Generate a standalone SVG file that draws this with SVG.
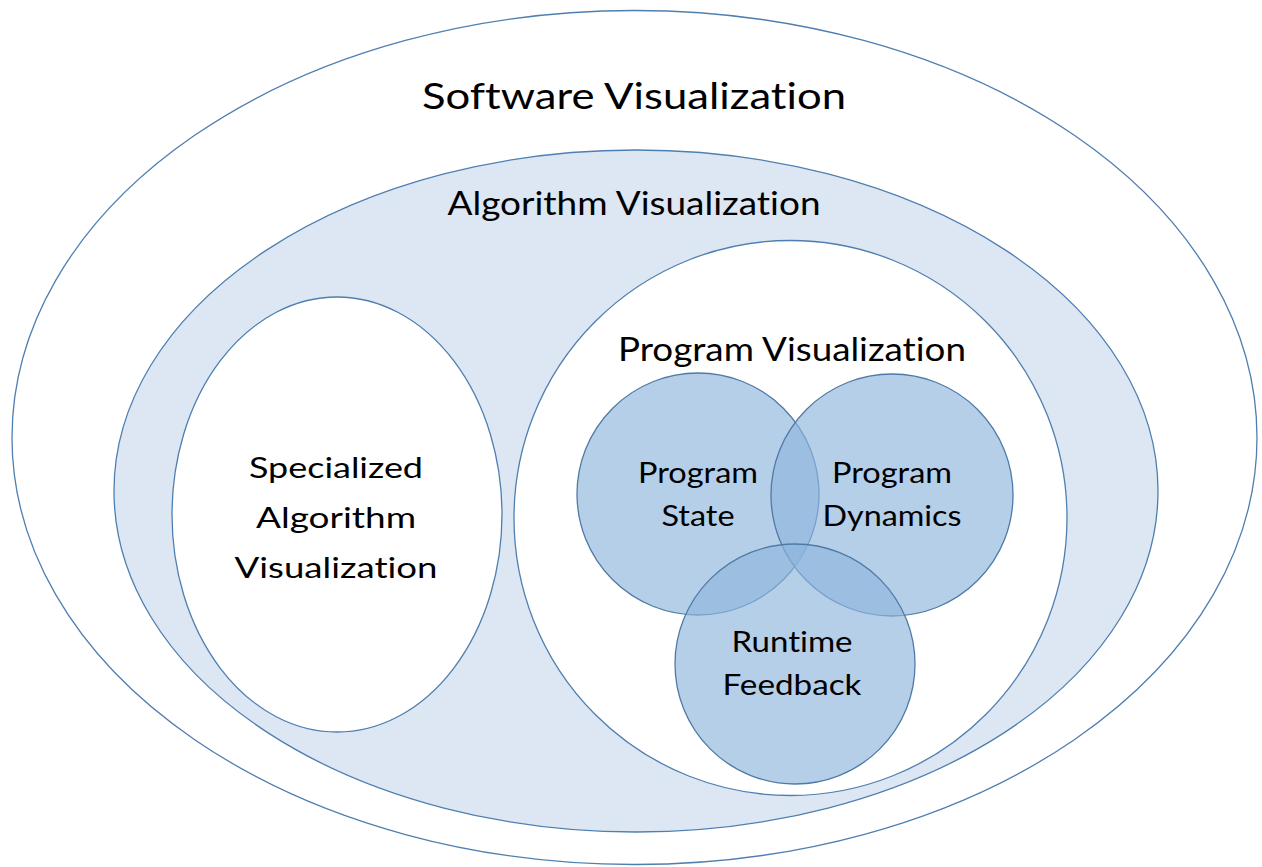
<svg xmlns="http://www.w3.org/2000/svg" width="1262" height="867" viewBox="0 0 1262 867">
<style>
.ell{stroke:#4f7fb0;stroke-width:1.3}
.circ{fill:#8fb6dd;fill-opacity:0.65;stroke:#4f7aa5;stroke-width:1.3}
text{font-family:Lato,"Open Sans","Liberation Sans",sans-serif;fill:#000;text-anchor:middle;font-variant-ligatures:none;font-feature-settings:"liga" 0}
</style>
<rect width="1262" height="867" fill="#fff"/>
<g id="software">
<ellipse class="ell" cx="634.5" cy="437.5" rx="622.5" ry="427" fill="#fff"/>
<text x="634" y="109" font-size="37.5" textLength="424" lengthAdjust="spacingAndGlyphs">Software Visualization</text>
</g>
<g id="algorithm">
<ellipse class="ell" cx="636" cy="491" rx="522" ry="341" fill="#dce7f3"/>
<text x="634" y="215" font-size="32" textLength="373" lengthAdjust="spacingAndGlyphs">Algorithm Visualization</text>
</g>
<g id="specialized">
<ellipse class="ell" cx="337" cy="514.5" rx="165" ry="217.5" fill="#fff"/>
<text font-size="29"><tspan x="336" y="478" textLength="174" lengthAdjust="spacingAndGlyphs">Specialized</tspan><tspan x="336" y="528" textLength="160" lengthAdjust="spacingAndGlyphs">Algorithm</tspan><tspan x="336" y="578" textLength="203" lengthAdjust="spacingAndGlyphs">Visualization</tspan></text>
</g>
<g id="program">
<ellipse class="ell" cx="790.5" cy="518" rx="276.5" ry="277.5" fill="#fff"/>
<text x="792" y="361" font-size="32" textLength="348" lengthAdjust="spacingAndGlyphs">Program Visualization</text>
</g>
<g id="program-state">
<circle class="circ" cx="698" cy="494" r="121"/>
</g>
<g id="program-dynamics">
<circle class="circ" cx="892" cy="495" r="121"/>
</g>
<g id="runtime-feedback">
<circle class="circ" cx="795" cy="664" r="120"/>
</g>
<g id="labels" font-size="28">
<text><tspan x="698" y="483" textLength="120" lengthAdjust="spacingAndGlyphs">Program</tspan><tspan x="698" y="526" textLength="73" lengthAdjust="spacingAndGlyphs">State</tspan></text>
<text><tspan x="892" y="483" textLength="120" lengthAdjust="spacingAndGlyphs">Program</tspan><tspan x="892" y="526" textLength="139" lengthAdjust="spacingAndGlyphs">Dynamics</tspan></text>
<text><tspan x="792" y="652" textLength="121" lengthAdjust="spacingAndGlyphs">Runtime</tspan><tspan x="792" y="695" textLength="139" lengthAdjust="spacingAndGlyphs">Feedback</tspan></text>
</g>
<g id="connectors"/>
</svg>
